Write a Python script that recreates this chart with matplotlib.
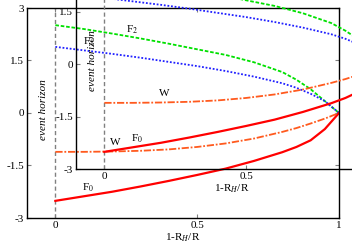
import matplotlib
matplotlib.use("Agg")
from matplotlib import pyplot as plt

plt.rcParams["font.family"] = ["Liberation Serif", "DejaVu Serif"]
plt.rcParams["mathtext.fontset"] = "stix"
plt.rcParams["axes.unicode_minus"] = False

# valores (1-R_H/R)
x = [0, 0.1, 0.2, 0.3, 0.4, 0.5, 0.6, 0.7, 0.8, 0.85, 0.9, 0.95, 0.975, 1.0]
F0 = [-2.51, -2.38, -2.25, -2.10, -1.94, -1.77, -1.59, -1.37, -1.12, -0.97, -0.78, -0.46, -0.23, 0.0]
F2 = [2.51, 2.40, 2.27, 2.13, 1.98, 1.82, 1.66, 1.45, 1.17, 0.95, 0.68, 0.34, 0.17, 0.0]
F1 = [1.89, 1.79, 1.69, 1.58, 1.46, 1.34, 1.20, 1.04, 0.85, 0.72, 0.55, 0.34, 0.17, 0.0]
W = [-1.11, -1.11, -1.10, -1.08, -1.04, -0.97, -0.87, -0.73, -0.54, -0.43, -0.30, -0.16, -0.08, 0.0]

xticks = [0, 0.5, 1]
xtick_labels = ["0", "0.5", "1"]
yticks = [-3, -1.5, 0, 1.5, 3]
ytick_labels = ["-3", "-1.5", "0", "1.5", "3"]


def dibujar(ax):
    ax.axvline(0, color="gray", linestyle=(0, (3, 2)), linewidth=1)
    ax.plot(x, F2, color="#00e000", linestyle=(0, (2, 1)), linewidth=1.3)
    ax.plot(x, F1, color="#2020ff", linestyle=(0, (1, 1)), linewidth=1.3)
    ax.plot(x, W, color="#ff5a1e", linestyle=(0, (4, 1, 1, 1)), linewidth=1.3)
    ax.plot(x, F0, color="#ff0000", linewidth=1.6)

    ax.text(0.27, 2.37, "F$_2$", fontsize=8, ha="center", va="center")
    ax.text(0.116, 2.03, "F$_1$", fontsize=8, ha="center", va="center")
    ax.text(0.21, -0.83, "W", fontsize=8, ha="center", va="center")
    ax.text(0.116, -2.14, "F$_0$", fontsize=8, ha="center", va="center")
    ax.text(-0.042, 0.1, "event horizon", fontsize=8, style="italic",
            rotation=90, ha="center", va="center")

    ax.set_xlim(-0.1, 1.0)
    ax.set_ylim(-3, 3)
    ax.set_xticks(xticks)
    ax.set_xticklabels(xtick_labels)
    ax.set_yticks(yticks)
    ax.set_yticklabels(ytick_labels)
    ax.tick_params(direction="in", length=3, width=0.8, color="gray",
                   top=True, right=True, labelsize=8, pad=2)
    ax.set_xlabel("1-R$_H$/R", fontsize=8, labelpad=1)
    for s in ax.spines.values():
        s.set_linewidth(1)


fig = plt.figure(figsize=(3.52, 2.47), dpi=100)
ax1 = fig.add_axes([27 / 352, 29 / 247, 312 / 352, 210 / 247])
ax2 = fig.add_axes([76 / 352, 78 / 247, 312 / 352, 210 / 247])
ax2.set_facecolor("none")

dibujar(ax1)
dibujar(ax2)

plt.savefig("out.png", dpi=100)
plt.close(fig)
